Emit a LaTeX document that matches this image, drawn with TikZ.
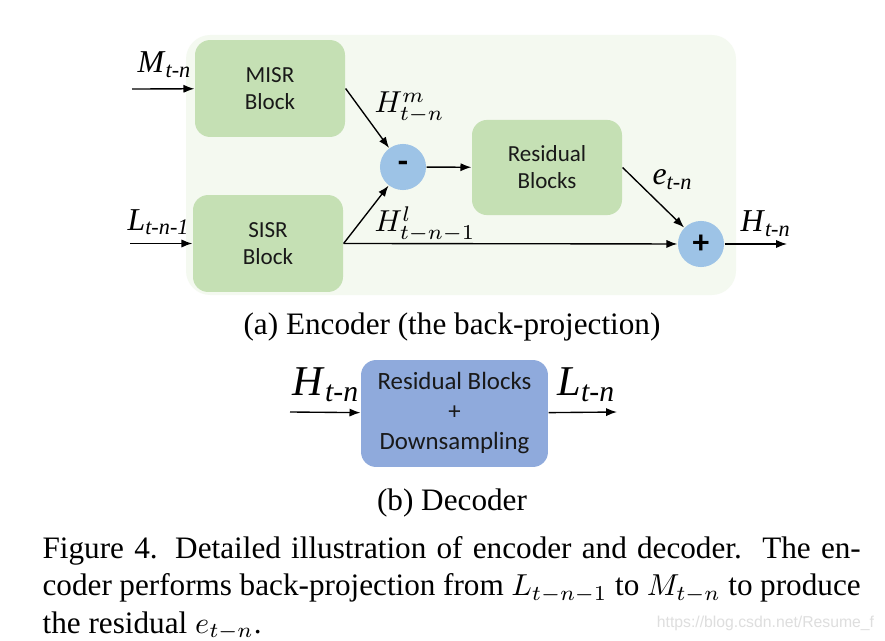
\documentclass[tikz,border=0pt]{standalone}
\usepackage{fontspec}
\setmainfont{Liberation Serif}
\newfontfamily\boxfont{Carlito}
\newfontfamily\markfont{Liberation Sans}
\usetikzlibrary{arrows.meta}
\definecolor{panelgreen}{HTML}{F4F9F0}
\definecolor{blockgreen}{HTML}{C5E0B4}
\definecolor{opblue}{HTML}{9DC3E6}
\definecolor{decblue}{HTML}{8FAADC}
\tikzset{
	block/.style={rounded corners=5pt, fill=blockgreen, minimum width=49.5pt, minimum height=32pt, inner sep=0pt, align=center, text=black!90, font=\boxfont\fontsize{7.6}{8.9}\selectfont},
	opnode/.style={circle, fill=opblue, minimum size=15.2pt, inner sep=0pt, font=\boxfont\bfseries\fontsize{11}{11}\selectfont},
	sig/.style={anchor=base west, inner sep=0pt, font=\fontsize{10.5}{13}\selectfont},
	mathsig/.style={anchor=base west, inner sep=0pt, font=\fontsize{9.6}{12}\selectfont},
	bigsig/.style={anchor=base west, inner sep=0pt, font=\fontsize{14}{16}\selectfont},
	flow/.style={-{Latex[length=3.6pt,width=2.7pt]}, line width=0.45pt},
	subcap/.style={inner sep=0pt, font=\fontsize{10.3}{12.2}\selectfont}
}

\begin{document}
\begin{tikzpicture}[x=0.33pt, y=-0.33pt]
		%%%%% START %%%%%
		\useasboundingbox (0, 0) rectangle (885, 641);
		\fill[white] (0, 0) rectangle (885, 641);
		
		% encoder panel
		\fill[panelgreen, rounded corners=8pt] (186, 35) rectangle (736, 295);
		
		\node[block] (misr) at (270, 88.5) {MISR\\Block};
		\node[block] (sisr) at (268, 243.5) {SISR\\Block};
		\node[block, minimum height=31.4pt] (resid) at (547, 167.5) {Residual\\Blocks};
		\node[opnode] (minus) at (403, 167) {-};
		\node[opnode] (plus) at (701, 244) {+};
		
		\coordinate (min) at (132, 89);
		\coordinate (lin) at (130, 243.5);
		\coordinate (hout) at (787, 244);
		
		\draw[flow] (min) -- (misr);
		\draw[flow] (lin) -- (sisr);
		\draw[flow] (misr.east) -- (minus);
		\draw[flow] (sisr.east) -- (minus);
		\draw[flow] (sisr.east) -- (plus);
		\draw[flow] (minus) -- (resid);
		\draw[flow] (resid.east) -- (plus);
		\draw[flow] (plus) -- (hout);
		
		\node[sig] (mlab) at (137, 73) {\textit{M}\textsubscript{\textit{t-n}}};
		\node[sig] (llab) at (127, 230) {\textit{L}\textsubscript{\textit{t-n-1}}};
		\node[mathsig] (hmlab) at (374, 113) {$H_{t-n}^{m}$};
		\node[mathsig] (hllab) at (374, 232) {$H_{t-n-1}^{l}$};
		\node[sig] (elab) at (652, 185) {\textit{e}\textsubscript{\textit{t-n}}};
		\node[sig] (hlab) at (740, 232) {\textit{H}\textsubscript{\textit{t-n}}};
		
		\node[subcap] (capa) at (452, 327) {(a) Encoder (the back-projection)};
		
		% decoder
		\node[block, fill=decblue, minimum width=61.7pt, minimum height=35.3pt, font=\boxfont\fontsize{8.2}{9.9}\selectfont] (dec) at (454.5, 413.5) {Residual Blocks\\+\\Downsampling};
		\coordinate (din) at (290, 412);
		\coordinate (dout) at (617, 412);
		\draw[flow] (din) -- (dec);
		\draw[flow] (dec) -- (dout);
		\node[bigsig] (dhlab) at (292, 395) {\textit{H}\textsubscript{\textit{t-n}}};
		\node[bigsig] (dllab) at (557, 395) {\textit{L}\textsubscript{\textit{t-n}}};
		
		\node[subcap] (capb) at (452, 503) {(b) Decoder};
		
		% figure caption
		\node[anchor=north west, text width=270pt, align=justify, inner sep=0pt, font=\fontsize{10.3}{12.3}\selectfont] (caption) at (42, 536) {Figure 4. Detailed illustration of encoder and decoder.\ \ The en-\linebreak coder performs back-projection from $L_{t-n-1}$ to $M_{t-n}$ to produce\linebreak the residual $e_{t-n}$.};
		
		\node[inner sep=0pt, text=black!13, font=\markfont\fontsize{5.2}{6}\selectfont] (mark) at (765.5, 623) {https://blog.csdn.net/Resume\_f};
		
		%%%%% END %%%%%
\end{tikzpicture}
\end{document}
